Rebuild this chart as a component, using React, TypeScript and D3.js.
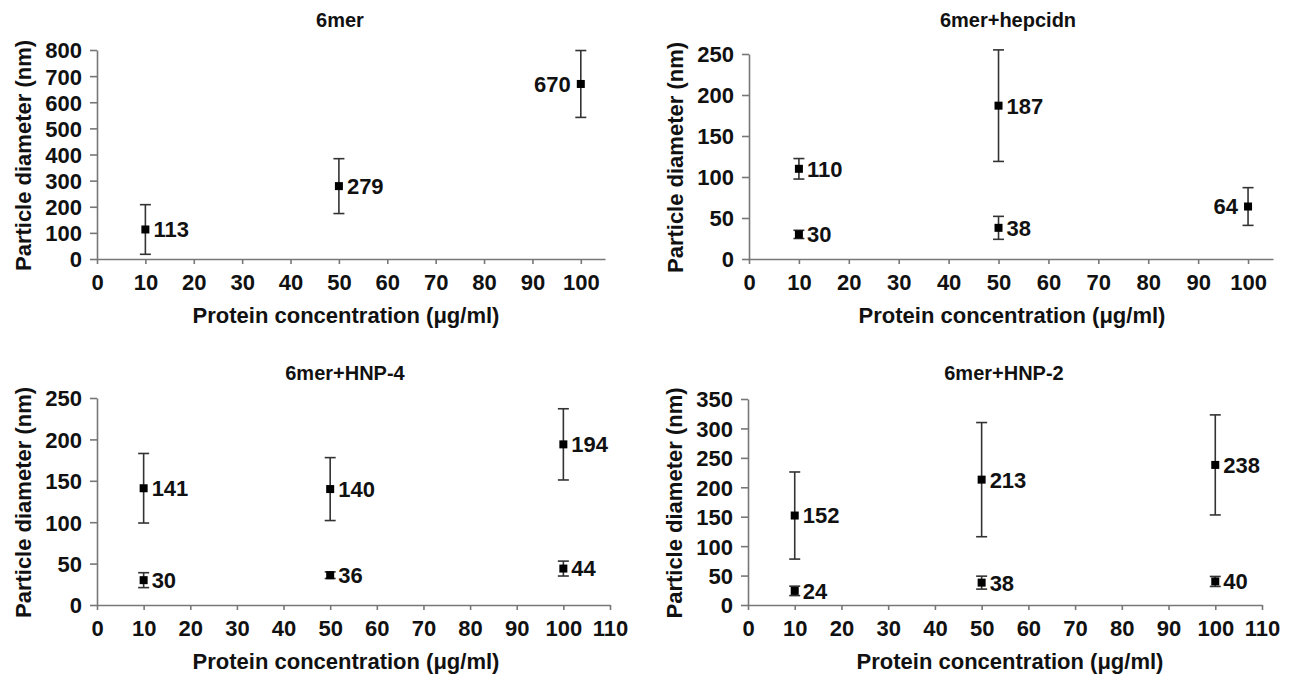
import React, { useRef, useEffect } from "react";
import * as d3 from "d3";

// concentrations (µg/ml) and measured particle diameters (nm)
const panelTitles = ["6mer", "6mer+hepcidn", "6mer+HNP-4", "6mer+HNP-2"];

const sixmerX = [10, 50, 100];
const sixmerY = [113, 279, 670];
const sixmerErr = [95, 105, 128];

const hepcidinX = [10, 10, 50, 50, 100];
const hepcidinY = [110, 30, 187, 38, 64];
const hepcidinErr = [12.5, 5, 68, 14, 23];

const hnp4X = [10, 10, 50, 50, 100, 100];
const hnp4Y = [141, 30, 140, 36, 194, 44];
const hnp4Err = [42, 9, 38, 4, 43, 9];

const hnp2X = [10, 10, 50, 50, 100, 100];
const hnp2Y = [152, 24, 213, 38, 238, 40];
const hnp2Err = [74, 8, 97, 11, 85, 8.5];

// which side the value label sits on
const sixmerSide = ["r", "r", "l"];
const hepcidinSide = ["r", "r", "r", "r", "l"];

const xMaxes = [105, 105, 110, 110];
const xTickMax = [100, 100, 110, 110];
const yMaxes = [800, 250, 250, 350];
const yTickSteps = [100, 50, 50, 50];

const FONT = "'Liberation Sans', Arial, sans-serif";

const App = () => {
  const ref = useRef<SVGSVGElement | null>(null);

  useEffect(() => {
    if (!ref.current) return;
    const svg = d3.select(ref.current);
    svg.selectAll("*").remove();

    const series = [
      { x: sixmerX, y: sixmerY, e: sixmerErr, side: sixmerSide },
      { x: hepcidinX, y: hepcidinY, e: hepcidinErr, side: hepcidinSide },
      { x: hnp4X, y: hnp4Y, e: hnp4Err, side: hnp4X.map(() => "r") },
      { x: hnp2X, y: hnp2Y, e: hnp2Err, side: hnp2X.map(() => "r") },
    ];

    // panel frames: x range, y range, title / axis-title placement
    const frames = [
      { l: 97, r: 605, b: 259, t: 50, titleX: 340, titleY: 27, xtX: 346 },
      { l: 749, r: 1273, b: 259, t: 54, titleX: 1008, titleY: 27, xtX: 1012 },
      { l: 97, r: 610, b: 605, t: 398, titleX: 345, titleY: 380, xtX: 346 },
      { l: 748, r: 1262, b: 605, t: 399, titleX: 1004, titleY: 380, xtX: 1010 },
    ];

    series.forEach((s, i) => {
      const f = frames[i];
      const g = svg.append("g");

      const xScale = d3.scaleLinear().domain([0, xMaxes[i]]).range([f.l, f.r]);
      const yScale = d3.scaleLinear().domain([0, yMaxes[i]]).range([f.b, f.t]);

      const xTicks = d3.range(0, xTickMax[i] + 1, 10);
      const yTicks = d3.range(0, yMaxes[i] + 1, yTickSteps[i]);

      const xAxis = g
        .append("g")
        .attr("transform", `translate(0,${f.b})`)
        .call(d3.axisBottom(xScale).tickValues(xTicks).tickSizeInner(5).tickSizeOuter(0));
      const yAxis = g
        .append("g")
        .attr("transform", `translate(${f.l},0)`)
        .call(d3.axisLeft(yScale).tickValues(yTicks).tickSizeInner(7).tickSizeOuter(0).tickPadding(8));

      [xAxis, yAxis].forEach((ax) => {
        ax.selectAll("path, line").attr("stroke", "#777").attr("stroke-width", 1.6);
        ax.selectAll("text")
          .attr("fill", "#111")
          .style("font-family", FONT)
          .style("font-weight", "bold")
          .style("font-size", "22px");
      });
      xAxis.selectAll("text").attr("y", 31).attr("dy", 0);
      yAxis.selectAll("text").attr("dy", "0.36em");

      // error bars
      const cap = 5.5;
      s.x.forEach((xv, j) => {
        const cx = xScale(xv);
        const top = yScale(s.y[j] + s.e[j]);
        const bot = yScale(s.y[j] - s.e[j]);
        const eb = g.append("g").attr("stroke", "#333").attr("stroke-width", 1.6);
        eb.append("line").attr("x1", cx).attr("x2", cx).attr("y1", top).attr("y2", bot);
        eb.append("line").attr("x1", cx - cap).attr("x2", cx + cap).attr("y1", top).attr("y2", top);
        eb.append("line").attr("x1", cx - cap).attr("x2", cx + cap).attr("y1", bot).attr("y2", bot);
      });

      // markers
      g.selectAll("rect.pt")
        .data(s.x.map((xv, j) => ({ x: xv, y: s.y[j] })))
        .enter()
        .append("rect")
        .attr("x", (d) => xScale(d.x) - 4)
        .attr("y", (d) => yScale(d.y) - 4)
        .attr("width", 8)
        .attr("height", 8)
        .attr("fill", "#000");

      // value labels
      g.selectAll("text.lbl")
        .data(s.x.map((xv, j) => ({ x: xv, y: s.y[j], side: s.side[j] })))
        .enter()
        .append("text")
        .attr("x", (d) => xScale(d.x) + (d.side === "r" ? 8 : -10))
        .attr("y", (d) => yScale(d.y))
        .attr("dy", "0.36em")
        .attr("text-anchor", (d) => (d.side === "r" ? "start" : "end"))
        .style("font-family", FONT)
        .style("font-weight", "bold")
        .style("font-size", "22px")
        .attr("fill", "#111")
        .text((d) => d.y);

      // title
      g.append("text")
        .attr("x", f.titleX)
        .attr("y", f.titleY)
        .attr("text-anchor", "middle")
        .style("font-family", FONT)
        .style("font-weight", "bold")
        .style("font-size", "20px")
        .attr("fill", "#111")
        .text(panelTitles[i]);

      // x axis title
      g.append("text")
        .attr("x", f.xtX)
        .attr("y", f.b + 64)
        .attr("text-anchor", "middle")
        .style("font-family", FONT)
        .style("font-weight", "bold")
        .style("font-size", "22px")
        .attr("fill", "#111")
        .text("Protein concentration (\u03bcg/ml)");

      // y axis title
      g.append("text")
        .attr("transform", `translate(${f.l - 66},${(f.t + f.b) / 2 + 1}) rotate(-90)`)
        .attr("text-anchor", "middle")
        .style("font-family", FONT)
        .style("font-weight", "bold")
        .style("font-size", "22px")
        .attr("fill", "#111")
        .text("Particle diameter (nm)");
    });
  }, []);

  return (
    <svg
      ref={ref}
      width={1290}
      height={680}
      style={{ position: "absolute", left: 0, top: 0, background: "#fff" }}
    />
  );
};

export default App;
